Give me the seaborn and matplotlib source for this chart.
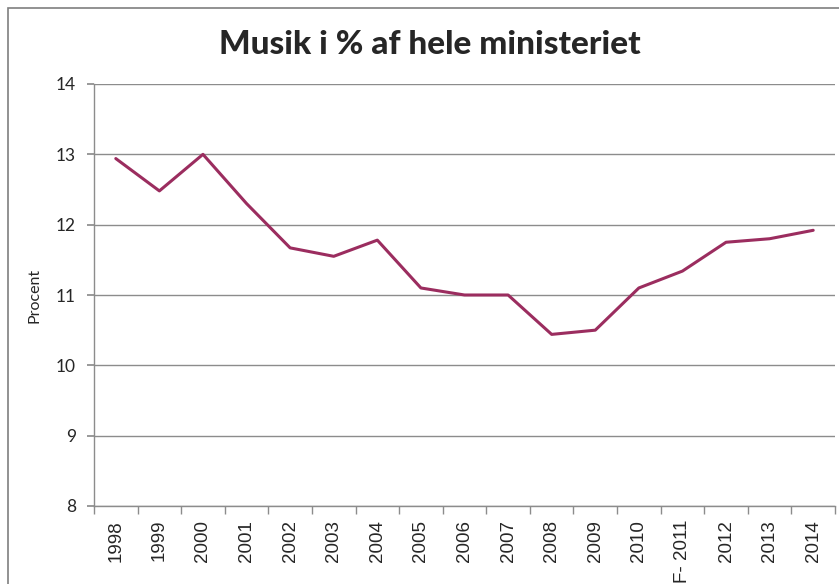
import numpy as np
import pandas as pd
import matplotlib.pyplot as plt
import seaborn as sns
from matplotlib.patches import Rectangle

# data
years = ['1998', '1999', '2000', '2001', '2002', '2003', '2004', '2005', '2006',
         '2007', '2008', '2009', '2010', 'F- 2011', '2012', '2013', '2014']
procent = [12.94, 12.48, 13.0, 12.3, 11.67, 11.55, 11.78, 11.1, 11.0,
           11.0, 10.44, 10.5, 11.1, 11.34, 11.75, 11.8, 11.92]
y_ticks = [8, 9, 10, 11, 12, 13, 14]

df = pd.DataFrame({'pos': np.arange(len(years)), 'procent': procent})

sns.set_theme(style='white')
plt.rcParams['font.family'] = ['Lato', 'DejaVu Sans']

fig = plt.figure(figsize=(8.39, 5.84), dpi=100)
ax = fig.add_axes([94 / 839, 78 / 584, (835 - 94) / 839, (506 - 84) / 584])

sns.lineplot(data=df, x='pos', y='procent', color='#9B2D5F', linewidth=2.2, ax=ax)

ax.set_xlim(-0.5, len(years) - 0.5)
ax.set_ylim(8, 14)
ax.set_yticks(y_ticks)
ax.set_yticklabels([str(t) for t in y_ticks], fontsize=12.5)
ax.yaxis.grid(True, color='#8c8c8c', linewidth=1.0)
ax.set_axisbelow(True)

# category labels at centres, tick marks at boundaries
ax.set_xticks(np.arange(len(years)))
ax.set_xticklabels(years, rotation=90, fontsize=13.5, family=['Liberation Sans'])
ax.set_xticks(np.arange(len(years) + 1) - 0.5, minor=True)
ax.tick_params(axis='x', which='major', length=0, pad=10)
ax.tick_params(axis='x', which='minor', length=6, color='#8c8c8c', direction='out', bottom=True)
ax.tick_params(axis='y', length=5, color='#8c8c8c', direction='out', left=True, pad=8)

for s in ['top', 'right']:
    ax.spines[s].set_visible(False)
for s in ['left', 'bottom']:
    ax.spines[s].set_color('#8c8c8c')
    ax.spines[s].set_linewidth(1.0)

ax.set_xlabel('')
ax.set_ylabel('Procent', fontsize=11.5, labelpad=10)

fig.text(430 / 839, 1 - 45 / 584, 'Musik i % af hele ministeriet',
         ha='center', va='center', fontsize=24, fontweight='black')

# outer chart border (cut off at right and bottom)
fig.patches.append(Rectangle((8 / 839, -0.1), 1.2, 1.1 - 8 / 584, transform=fig.transFigure,
                             fill=False, edgecolor='#7f7f7f', linewidth=1.2))

fig.savefig('out.png', dpi=100)
